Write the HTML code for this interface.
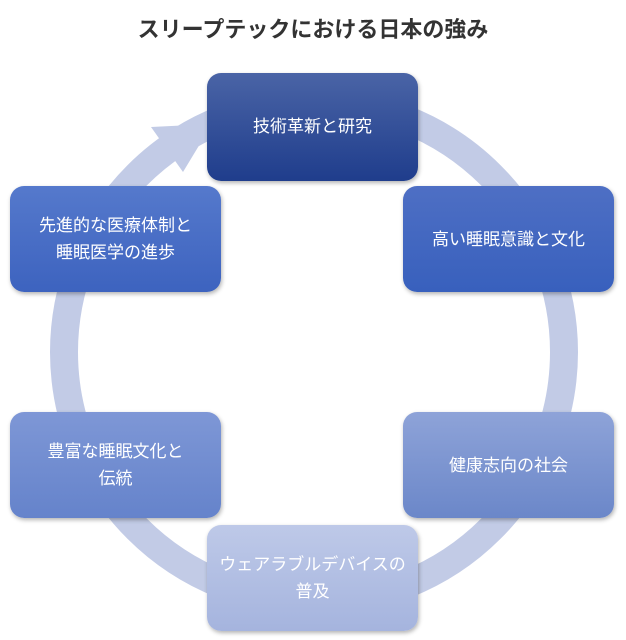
<!DOCTYPE html>
<html><head><meta charset="utf-8"><style>
body{margin:0;width:626px;height:640px;background:#fff;position:relative;overflow:hidden;font-family:"Liberation Sans","Noto Sans CJK JP",sans-serif}
.t{position:absolute;top:12px;left:0;width:626px;text-align:center;font-size:22px;font-weight:bold;color:#333}
.b{position:absolute;width:211px;height:106px;border-radius:14px;color:#fff;font-size:17px;line-height:27px;display:flex;align-items:center;justify-content:center;text-align:center;box-shadow:1px 2px 4px rgba(0,0,0,.3)}
</style></head><body>
<div class="t">スリープテックにおける日本の強み</div>
<svg width="626" height="640" style="position:absolute;left:0;top:0">
<circle cx="314" cy="352" r="250" fill="none" stroke="#c2cbe6" stroke-width="28"/>
<polygon points="212,124 183,172 151,127" fill="#c2cbe6"/>
</svg>
<div class="b" style="left:207px;top:73px;background:linear-gradient(#4a64a6,#1f3d8c);padding-bottom:2px">技術革新と研究</div>
<div class="b" style="left:403px;top:186px;background:linear-gradient(#4e6fc4,#3860bd)">高い睡眠意識と文化</div>
<div class="b" style="left:403px;top:412px;background:linear-gradient(#8ea3d8,#6b87c9)">健康志向の社会</div>
<div class="b" style="left:207px;top:525px;background:linear-gradient(#bec9e8,#a5b4de)">ウェアラブルデバイスの<br>普及</div>
<div class="b" style="left:10px;top:412px;background:linear-gradient(#7e97d6,#6583cb)">豊富な睡眠文化と<br>伝統</div>
<div class="b" style="left:10px;top:186px;background:linear-gradient(#5579cc,#3d63bf)">先進的な医療体制と<br>睡眠医学の進歩</div>
</body></html>
